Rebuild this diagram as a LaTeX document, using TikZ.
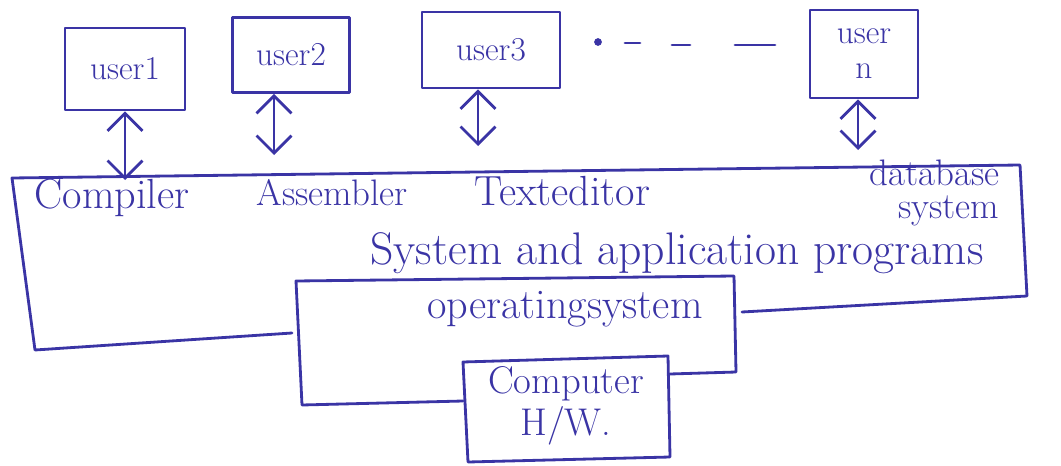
\documentclass[tikz,border=0pt]{standalone}
\usepackage{tikz}
\usetikzlibrary{arrows.meta}
\definecolor{ink}{RGB}{58,52,165}

\begin{document}
\begin{tikzpicture}[x=0.02cm,y=-0.02cm,
    pen/.style={draw=ink,line width=1.6pt,line cap=round,line join=round},
    userbox/.style={pen,text=ink,font=\fontsize{19}{20}\selectfont,inner sep=0,align=center},
    word/.style={text=ink,inner sep=0,font=\fontsize{24}{25}\selectfont,align=center},
    link/.style={pen,{Straight Barb[length=3.5mm,width=7mm]}-{Straight Barb[length=3.5mm,width=7mm]}}]
    \useasboundingbox (0,0) rectangle (1061,466);

    % Draw users
    \node[userbox,minimum width=2.4cm,minimum height=1.64cm] (user1) at (125,69) {user1};
    \node[userbox,minimum width=2.34cm,minimum height=1.5cm] (user2) at (291,55) {user2};
    \node[userbox,minimum width=2.76cm,minimum height=1.52cm] (user3) at (491,50) {user3};
    \node[userbox,minimum width=2.16cm,minimum height=1.76cm] (usern) at (864,54) {user\\n};

    % Draw dots between user3 and user n
    \fill[ink] (598,42) circle (2.2pt);
    \draw[pen] (625,43) -- (640,43);
    \draw[pen] (672,45) -- (690,45);
    \draw[pen] (735,45) -- (775,45);

    % Draw arrows to the programs
    \coordinate (a1) at (125,180);
    \coordinate (a2) at (274,155);
    \coordinate (a3) at (478,146);
    \coordinate (an) at (858,150);
    \draw[link] (user1.south -| a1) -- (a1);
    \draw[link] (user2.south -| a2) -- (a2);
    \draw[link] (user3.south -| a3) -- (a3);
    \draw[link] (usern.south -| an) -- (an);

    % System and application programs
    \draw[pen] (292,333) -- (35,350) -- (12,178) -- (1020,165) -- (1027,296) -- (742,312);
    \node[word] (compiler) at (112,198) {Compiler};
    \node[word,font=\fontsize{21}{22}\selectfont] (assembler) at (332,193) {Assembler};
    \node[word] (editor) at (562,191) {Texteditor};
    \node[word,align=right,font=\fontsize{21}{19}\selectfont] (database) at (912,193) {database\\\hspace*{2em}system};
    \node[word,font=\fontsize{26}{28}\selectfont] (sysapp) at (677,253) {System and application programs};

    % Operating system
    \draw[pen] (463,401) -- (302,405) -- (296,281) -- (734,276) -- (736,372) -- (670,374);
    \node[word] (os) at (565,309) {operatingsystem};

    % Computer hardware
    \draw[pen] (463,362) -- (668,356) -- (670,457) -- (468,462) -- cycle;
    \node[word,font=\fontsize{22}{24}\selectfont] (hw) at (566,406) {Computer\\H/W.};
\end{tikzpicture}
\end{document}
